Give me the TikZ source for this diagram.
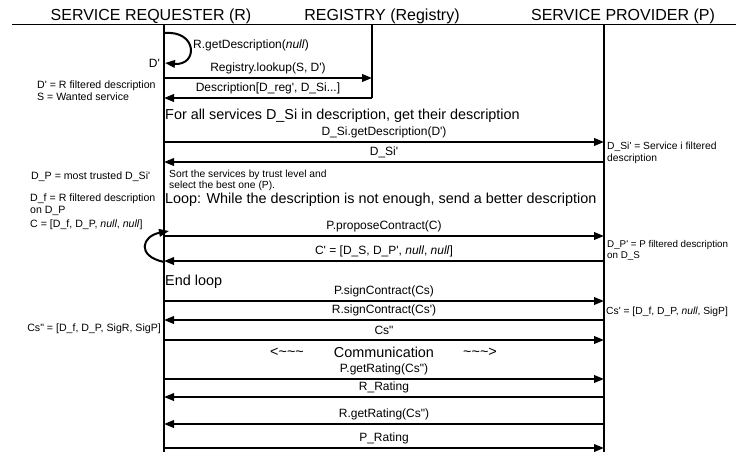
\documentclass[tikz,border=0pt]{standalone}
\usepackage{fontspec}
\newfontfamily\af{Liberation Sans}
\usetikzlibrary{arrows.meta}
\tikzset{
 hdr/.style={font=\af\fontsize{16}{19}\selectfont, inner sep=0},
 big/.style={font=\af\fontsize{14.4}{17}\selectfont, inner sep=0, anchor=west},
 lbl/.style={font=\af\fontsize{12}{14}\selectfont, inner sep=0},
 note/.style={font=\af\fontsize{10.3}{11.5}\selectfont, inner sep=0, align=left},
 lnote/.style={note, font=\af\fontsize{10.6}{12}\selectfont},
 life/.style={line width=1.2pt},
 msgline/.style={line width=2pt, -{Triangle[length=10pt,width=7.5pt]}},
}
\newcommand\sqmsg[5]{%
 \coordinate (#1s) at (#3,#2); \coordinate (#1e) at (#4,#2);
 \draw[msgline] (#1s) -- node[lbl, yshift=9.5pt]{#5} (#1e);
}
\begin{document}
\begin{tikzpicture}[x=1pt,y=-1pt]
\useasboundingbox (0,0) rectangle (736,452);
% headers
\node[hdr] (hR) at (151,16) {SERVICE REQUESTER (R)};
\node[hdr] (hG) at (382,16) {REGISTRY (Registry)};
\node[hdr] (hP) at (623,16) {SERVICE PROVIDER (P)};
\coordinate (hl) at (12,25); \coordinate (hr) at (736,25);
\draw[line width=1pt] (hl) -- (hr);
% lifelines
\coordinate (Rtop) at (164,25); \coordinate (Rbot) at (164,452);
\coordinate (Gtop) at (372,25); \coordinate (Gbot) at (372,98);
\coordinate (Ptop) at (604,25); \coordinate (Pbot) at (604,452);
\draw[life] (Rtop) -- (Rbot);
\draw[life] (Gtop) -- (Gbot);
\draw[life] (Ptop) -- (Pbot);
% self loop top
\coordinate (s1a) at (164,33); \coordinate (s1b) at (165,63);
\draw[msgline] (s1a) .. controls (198,30) and (198,66) .. (s1b);
\node[lbl, anchor=west] (gd) at (193,45) {R.getDescription(\textit{null})};
\node[lbl, anchor=east] (dp) at (160,63) {D'};
% messages
\sqmsg{m1}{78}{164}{372}{Registry.lookup(S, D')}
\sqmsg{m2}{98}{372}{164}{Description[D\_reg', D\_Si...]}
\node[big] (fa) at (165,116) {For all services D\_Si in description, get their description};
\sqmsg{m3}{142}{164}{604}{D\_Si.getDescription(D')}
\sqmsg{m4}{162}{604}{164}{D\_Si'}
\node[note, anchor=west] (so) at (169,180.5) {Sort the services by trust level and\\select the best one (P).};
\node[big] (lp) at (165,199.5) {Loop: While the description is not enough, send a better description};
\sqmsg{m5}{236}{164}{604}{P.proposeContract(C)}
\sqmsg{m6}{261}{604}{164}{C' = [D\_S, D\_P', \textit{null}, \textit{null}]}
% loop arrow
\coordinate (s2a) at (164,262); \coordinate (s2b) at (169,231);
\draw[msgline] (s2a) .. controls (136,256) and (142,236) .. (s2b);
\node[big] (el) at (165,282) {End loop};
\sqmsg{m7}{301}{164}{604}{P.signContract(Cs)}
\sqmsg{m8}{320}{604}{164}{R.signContract(Cs')}
\sqmsg{m9}{340}{164}{604}{Cs"}
\node[big, anchor=center] (c1) at (287,352) {<\textasciitilde\textasciitilde\textasciitilde};
\node[big, anchor=center] (c2) at (384,352) {Communication};
\node[big, anchor=center] (c3) at (480,352) {\textasciitilde\textasciitilde\textasciitilde>};
\sqmsg{m10}{379}{164}{604}{P.getRating(Cs")}
\sqmsg{m11}{397}{604}{164}{R\_Rating}
\sqmsg{m12}{424}{604}{164}{R.getRating(Cs")}
\sqmsg{m13}{448}{164}{604}{P\_Rating}
% left notes
\node[lnote, anchor=west] (n1) at (37,91) {D' = R filtered description\\S = Wanted service};
\node[lnote, anchor=west] (n2) at (31,177) {D\_P = most trusted D\_Si'};
\node[lnote, anchor=west] (n3) at (30,205) {D\_f = R filtered description\\on D\_P};
\node[lnote, anchor=west] (n4) at (30,225) {C = [D\_f, D\_P, \textit{null}, \textit{null}]};
\node[lnote, anchor=east] (n5) at (161,329) {Cs" = [D\_f, D\_P, SigR, SigP]};
% right notes
\node[note, anchor=west] (r1) at (607,153) {D\_Si' = Service i filtered\\description};
\node[note, anchor=west, font=\af\fontsize{9.8}{11}\selectfont] (r2) at (607,250) {D\_P' = P filtered description\\on D\_S};
\node[note, anchor=west] (r3) at (606,312) {Cs' = [D\_f, D\_P, \textit{null}, SigP]};
\end{tikzpicture}
\end{document}
